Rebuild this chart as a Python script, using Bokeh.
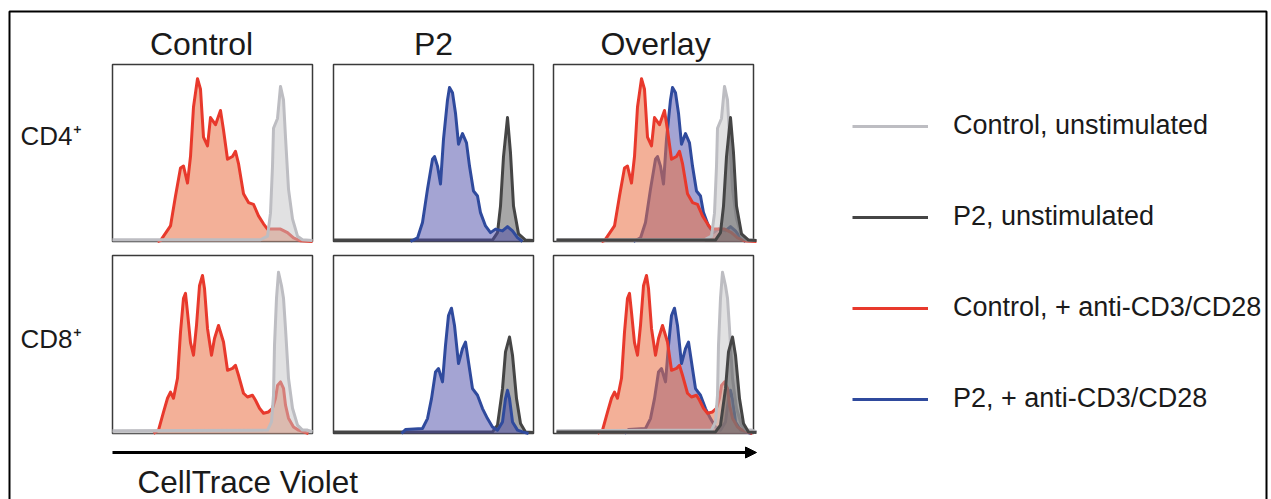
from bokeh.plotting import figure
from bokeh.models import Range1d, Legend, LegendItem, Arrow, NormalHead
from bokeh.core.properties import value
from bokeh.embed import file_html
from bokeh.resources import INLINE

# ---------------- data ----------------
col_titles = ["Control", "P2", "Overlay"]
row_labels = ["CD4\u207a", "CD8\u207a"]
axis_label = "CellTrace Violet"
series_names = ["Control, unstimulated", "P2, unstimulated",
                "Control, + anti-CD3/CD28", "P2, + anti-CD3/CD28"]

# CTV channel (0-200 panel scale) and normalised counts (% of max)
cd4_ctrl_unstim_x = [0, 148, 155, 158, 160, 161, 165, 168, 171, 173, 176, 180, 185, 190, 200]
cd4_ctrl_unstim_y = [1, 1, 3, 16, 42.5, 64, 69.5, 87.6, 80, 59, 29.6, 12.8, 3, 1, 0.5]

cd4_p2_unstim_x = [0, 159, 164, 167, 170, 174, 177, 180, 185, 192, 200]
cd4_p2_unstim_y = [0.8, 0.8, 5, 20, 48, 70, 50, 20, 4.3, 0.8, 0.5]

cd4_ctrl_stim_x = [45, 48, 58, 63, 68, 71, 75, 78, 81, 85, 88, 91, 95, 98, 103, 108, 111,
                   115, 120, 123, 126, 131, 136, 141, 146, 151, 155, 161, 168, 175, 181, 188, 200]
cd4_ctrl_stim_y = [0, 0.5, 8.8, 25.7, 41.5, 42.6, 33, 48, 76, 92, 86, 59, 54, 70, 66, 74, 63,
                   46.5, 48, 51, 44, 27, 22, 21, 14.5, 10, 7, 7, 7, 5, 2, 0.4, 0]

cd4_p2_stim_x = [77, 84, 89, 94, 99, 101, 104, 107, 110, 114, 116, 119, 122, 125, 129, 133,
                 136, 140, 144, 147, 152, 157, 162, 169, 174, 179, 184, 189]
cd4_p2_stim_y = [0, 2, 10.7, 29.6, 46.5, 48, 42.6, 32.5, 57.8, 80, 87, 84, 72.5, 55, 61, 55.7,
                 42.6, 28.5, 25.7, 16.3, 8.8, 5, 7, 6, 8.4, 6, 2.2, 0]

cd8_ctrl_unstim_x = [0, 155, 159, 161, 162, 164, 166, 169, 171, 173, 176, 180, 185, 190, 195, 200]
cd8_ctrl_unstim_y = [1.5, 1.9, 6.5, 21.5, 49.5, 76, 90.6, 83, 76, 59, 31, 14.2, 4.7, 1.9, 1.9, 1]

cd8_p2_unstim_x = [0, 159, 164, 169, 172, 176, 179, 183, 187, 192, 200]
cd8_p2_unstim_y = [0.8, 0.9, 4.7, 25.2, 45.8, 54.2, 44, 19.6, 5.6, 0.9, 0.5]

cd8_ctrl_stim_x = [41, 46, 51, 55, 58, 61, 65, 68, 71, 73, 75, 78, 81, 84, 87, 90, 92, 95, 99,
                   102, 106, 111, 115, 120, 123, 126, 131, 135, 140, 143, 147, 151, 156, 160,
                   163, 165, 168, 171, 173, 176, 181, 186, 191, 196]
cd8_ctrl_stim_y = [0, 1.9, 12, 19.8, 23.3, 19.8, 31, 57, 76, 78.7, 68, 51, 44, 60.7, 83, 88.8,
                   81.5, 59, 44, 53.4, 60.7, 51.4, 35.5, 36.6, 38.3, 32.7, 22.6, 20.5, 21.5,
                   18.7, 14.2, 11.4, 12.1, 14.2, 19.8, 27, 29, 25.4, 15.9, 8.6, 3.7, 1.9, 0.9, 0]

cd8_p2_stim_x = [68, 72, 89, 94, 98, 102, 105, 109, 112, 115, 118, 121, 125, 129, 132, 135,
                 139, 144, 149, 154, 159, 164, 169, 172, 174, 176, 179, 184, 189, 195]
cd8_p2_stim_y = [0, 2.2, 2.8, 8.4, 19.6, 34.5, 36.5, 29, 49.5, 66.3, 70.4, 60.7, 39.3, 47.7,
                 51.4, 40.2, 25.2, 21.5, 14, 8.4, 3.7, 1.9, 6.5, 19.6, 24.3, 19.6, 6.5, 1.9, 0.9, 0]

# ---------------- styles / layout ----------------
STYLE = {
    "cu": dict(line="#bdbdc2", fill="#c4c4c6", alpha=0.5),
    "pu": dict(line="#454545", fill="#505050", alpha=0.5),
    "cs": dict(line="#e8392c", fill="#e96f44", alpha=0.55),
    "ps": dict(line="#2f4a9d", fill="#4a4aa8", alpha=0.5),
}
DATA = {
    0: {"cu": (cd4_ctrl_unstim_x, cd4_ctrl_unstim_y), "pu": (cd4_p2_unstim_x, cd4_p2_unstim_y),
        "cs": (cd4_ctrl_stim_x, cd4_ctrl_stim_y), "ps": (cd4_p2_stim_x, cd4_p2_stim_y)},
    1: {"cu": (cd8_ctrl_unstim_x, cd8_ctrl_unstim_y), "pu": (cd8_p2_unstim_x, cd8_p2_unstim_y),
        "cs": (cd8_ctrl_stim_x, cd8_ctrl_stim_y), "ps": (cd8_p2_stim_x, cd8_p2_stim_y)},
}
ORDER = [["cs", "cu"], ["pu", "ps"], ["ps", "cs", "cu", "pu"]]

W, H = 1271, 499
def Y(py):  # page pixel row -> data y
    return H - py

col_left = [112, 333, 553]
panel_w = 200
row_top = [64, 255]
row_bot = [241, 433]
x_src = [(0, 200), (0, 200), (-3, 197)]

p = figure(width=W, height=H, x_range=Range1d(0, W), y_range=Range1d(0, H),
           output_backend="svg", toolbar_location=None, min_border=0,
           x_axis_location=None, y_axis_location=None, outline_line_color=None)
p.grid.visible = False
p.background_fill_color = "white"

FONT = value("Liberation Sans")

# outer border
p.quad(left=9, right=1266, top=Y(11), bottom=Y(530), fill_color=None,
       line_color="black", line_width=2)

legend_r = {}
for r in range(2):
    for c in range(3):
        l, rr = col_left[c], col_left[c] + panel_w
        p.quad(left=l, right=rr, top=Y(row_top[r]), bottom=Y(row_bot[r]),
               fill_color=None, line_color="#3a3a3a", line_width=1.5)
        sub = p.subplot(x_source=Range1d(*x_src[c]), y_source=Range1d(0, 100),
                        x_target=Range1d(l, rr),
                        y_target=Range1d(Y(row_bot[r]), Y(row_top[r])))
        for key in ORDER[c]:
            xs, ys = DATA[r][key]
            st = STYLE[key]
            sub.varea(x=xs, y1=[0] * len(xs), y2=ys, fill_color=st["fill"], fill_alpha=st["alpha"])
            ln = sub.line(x=xs, y=ys, line_color=st["line"], line_width=3, line_join="round")
            if r == 0 and c == 2:
                legend_r[key] = ln

TXT = dict(text_font=FONT, text_baseline="alphabetic", text_color="#1a1a1a")
# column titles
p.text(x=[201, 433, 655], y=[Y(43)] * 3, text=col_titles,
       text_font_size=value("32px"), text_align="center", **TXT)
# row labels
p.text(x=[20, 20], y=[Y(135), Y(338)], text=row_labels,
       text_font_size=value("26px"), text_align="left", **TXT)
# axis arrow + label
p.add_layout(Arrow(end=NormalHead(size=11, fill_color="black", line_color="black"),
                   x_start=112, y_start=Y(452), x_end=756, y_end=Y(452),
                   line_color="black", line_width=3))
p.text(x=[137], y=[Y(481)], text=[axis_label],
       text_font_size=value("31.5px"), text_align="left", **TXT)

legend = Legend(
    items=[LegendItem(label=series_names[i], renderers=[legend_r[k]])
           for i, k in enumerate(["cu", "pu", "cs", "ps"])],
    location=(852, 85), orientation="vertical",
    glyph_width=76, glyph_height=30, label_height=30, spacing=60,
    label_standoff=25, padding=0, margin=0,
    label_text_font="Liberation Sans", label_text_font_size="27px",
    label_text_color="#1a1a1a", border_line_color=None, background_fill_alpha=0,
)
p.add_layout(legend, "center")

open("out.html", "w").write(file_html(p, INLINE))
